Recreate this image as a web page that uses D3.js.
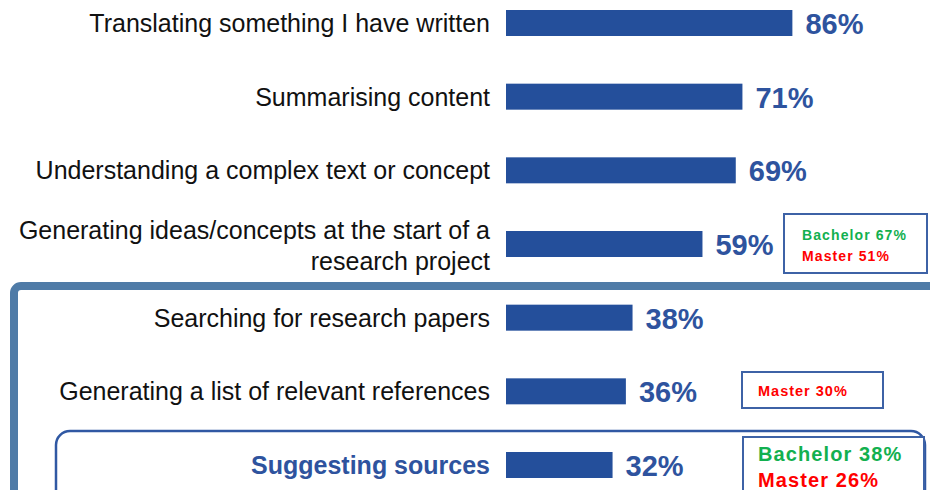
<!DOCTYPE html>
<html><head><meta charset="utf-8">
<script src="https://cdn.jsdelivr.net/npm/d3@7"></script>
<style>html,body{margin:0;padding:0;background:#fff;}svg{display:block;}</style>
</head><body>
<svg id="c" width="930" height="490"></svg>
<script>
const categories = [
  ["Translating something I have written"],
  ["Summarising content"],
  ["Understanding a complex text or concept"],
  ["Generating ideas/concepts at the start of a", "research project"],
  ["Searching for research papers"],
  ["Generating a list of relevant references"],
  ["Suggesting sources"]
];
const values = [86, 71, 69, 59, 38, 36, 32];
const notes = [
  null, null, null,
  [["Bachelor 67%", "bachelor"], ["Master 51%", "master"]],
  null,
  [["Master 30%", "master"]],
  [["Bachelor 38%", "bachelor"], ["Master 26%", "master"]]
];

const svg = d3.select("#c");
const font = "'Liberation Sans', Arial, sans-serif";
const x = d3.scaleLinear().domain([0, 100]).range([506, 839]);
const y = d3.scalePoint().domain(d3.range(categories.length)).range([23, 465]);
const barH = 26;
const barColor = "#244f9b";
const valColor = "#2e539e";

// Frames
svg.append("rect").attr("x", 14).attr("y", 286).attr("width", 960).attr("height", 400)
  .attr("rx", 7).attr("fill", "none").attr("stroke", "#4f7ba7").attr("stroke-width", 8);
svg.append("rect").attr("x", 56).attr("y", 431).attr("width", 869).attr("height", 200)
  .attr("rx", 14).attr("fill", "none").attr("stroke", "#3058a3").attr("stroke-width", 2.5);

// Bars
svg.selectAll("rect.bar").data(values).join("rect").attr("class", "bar")
  .attr("x", x(0)).attr("y", (d, i) => y(i) - barH / 2)
  .attr("width", d => x(d) - x(0)).attr("height", barH).attr("fill", barColor);

// Value labels
svg.selectAll("text.val").data(values).join("text").attr("class", "val")
  .attr("x", d => x(d) + 13).attr("y", (d, i) => y(i) + 11)
  .attr("font-family", font).attr("font-weight", "bold").attr("font-size", 29)
  .attr("fill", valColor).text(d => d + "%");

// Category labels
categories.forEach((lines, i) => {
  const last = i === categories.length - 1;
  const t = svg.append("text").attr("x", 490).attr("text-anchor", "end")
    .attr("font-family", font).attr("font-size", 25)
    .attr("font-weight", last ? "bold" : "normal")
    .attr("fill", last ? "#2e539e" : "#111");
  const n = lines.length;
  lines.forEach((l, j) => {
    t.append("tspan").attr("x", 490)
      .attr("y", y(i) + 9 + (n > 1 ? 1 : 0) + (j - (n - 1) / 2) * 31).text(l);
  });
});

// Annotation boxes
const boxes = [
  {row: 3, x: 784, y: 214, w: 143, h: 59, fs: 14, ls: 1.1, tx: 802, base: [240, 261]},
  {row: 5, x: 742, y: 372, w: 141, h: 36, fs: 14.5, ls: 1.0, tx: 758, base: [396]},
  {row: 6, x: 743, y: 437, w: 181, h: 80, fs: 20, ls: 1.1, tx: 758, base: [461, 487]}
];
const noteColor = {bachelor: "#12b04f", master: "#ff0000"};
boxes.forEach(b => {
  svg.append("rect").attr("x", b.x).attr("y", b.y).attr("width", b.w).attr("height", b.h)
    .attr("fill", "#fff").attr("stroke", "#3d62a6").attr("stroke-width", 2);
  notes[b.row].forEach((nt, j) => {
    svg.append("text").attr("x", b.tx).attr("y", b.base[j])
      .attr("font-family", font).attr("font-weight", "bold").attr("font-size", b.fs)
      .attr("letter-spacing", b.ls)
      .attr("fill", noteColor[nt[1]]).text(nt[0]);
  });
});
</script>
</body></html>
